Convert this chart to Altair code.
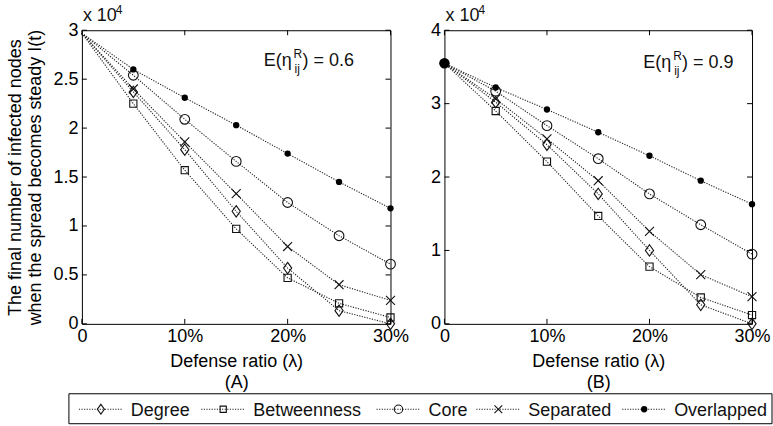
import altair as alt
import pandas as pd

# ---------------- data ----------------
ratios = [0, 5, 10, 15, 20, 25, 30]
series_names = ["Degree", "Betweenness", "Core", "Separated", "Overlapped"]

# panel (A): E(eta) = 0.6, values in units of 1e4
a_degree = [2.97, 2.37, 1.78, 1.15, 0.57, 0.135, 0.0]
a_betweenness = [2.97, 2.25, 1.57, 0.97, 0.47, 0.21, 0.065]
a_core = [2.97, 2.54, 2.09, 1.66, 1.24, 0.90, 0.61]
a_separated = [2.97, 2.40, 1.86, 1.33, 0.79, 0.40, 0.24]
a_overlapped = [2.97, 2.60, 2.31, 2.03, 1.74, 1.45, 1.18]

# panel (B): E(eta) = 0.9
b_degree = [3.55, 3.02, 2.44, 1.77, 1.00, 0.26, 0.0]
b_betweenness = [3.55, 2.90, 2.21, 1.47, 0.78, 0.36, 0.12]
b_core = [3.55, 3.17, 2.70, 2.25, 1.77, 1.35, 0.95]
b_separated = [3.55, 3.065, 2.52, 1.95, 1.26, 0.67, 0.37]
b_overlapped = [3.55, 3.22, 2.92, 2.61, 2.29, 1.95, 1.63]

x_ticks = [0, 10, 20, 30]
a_yticks = [0, 0.5, 1, 1.5, 2, 2.5, 3]
b_yticks = [0, 1, 2, 3, 4]

# ---------------- style ----------------
FONT = "Liberation Sans"
H = 294
W_A, W_B = 309, 308
INK = "#111111"
DASH = [1.2, 1.4]

marker_style = {
    "Degree": ("M0,-1L0.72,0L0,1L-0.72,0Z", 130),
    "Betweenness": ("square", 52),
    "Core": ("circle", 95),
    "Separated": ("M-1,-1L1,1M-1,1L1,-1", 80),
}


def long_df(vals_list):
    rows = []
    for name, vals in zip(series_names, vals_list):
        for r, v in zip(ratios, vals):
            rows.append({"series": name, "ratio": r, "value": v})
    return pd.DataFrame(rows)


def text_layer(txt, px, py, size=18, align="left"):
    return alt.Chart(pd.DataFrame({"t": [txt]})).mark_text(
        font=FONT, fontSize=size, align=align, baseline="alphabetic", color=INK
    ).encode(x=alt.value(px), y=alt.value(py), text="t:N")


def panel(df, width, ymax, yticks, letter, eta_val, ytitle, e_start, e_base, big_start):
    xscale = alt.Scale(domain=[0, 30], nice=False, zero=False)
    yscale = alt.Scale(domain=[0, ymax], nice=False, zero=True)
    xaxis = alt.Axis(
        values=x_ticks,
        labelExpr="datum.value == 0 ? '0' : datum.value + '%'",
        ticks=False, domain=False, grid=False,
        title=["Defense ratio (λ)", letter],
        labelPadding=4, titlePadding=7, titleLineHeight=21,
        labelFlush=False,
    )
    yaxis_kw = dict(
        values=yticks, labelExpr="format(datum.value, '~g')",
        ticks=False, domain=False, grid=False, labelPadding=4, labelFlush=False,
    )
    if ytitle:
        yaxis = alt.Axis(title=ytitle, titlePadding=8, titleLineHeight=20, **yaxis_kw)
    else:
        yaxis = alt.Axis(title=None, **yaxis_kw)

    def X(field):
        return alt.X(field, scale=xscale, axis=xaxis)

    def Y(field):
        return alt.Y(field, scale=yscale, axis=yaxis)

    layers = []
    layers.append(
        alt.Chart(df).mark_line(strokeDash=DASH, strokeWidth=1.1, color="#222222").encode(
            x=X("ratio:Q"), y=Y("value:Q"), detail="series:N", order="ratio:Q",
        )
    )
    for name, (shape, size) in marker_style.items():
        layers.append(
            alt.Chart(df).transform_filter(
                (alt.datum.series == name) & (alt.datum.ratio > 0)
            ).mark_point(shape=shape, size=size, filled=False, color=INK, strokeWidth=1.1, opacity=1).encode(
                x=X("ratio:Q"), y=Y("value:Q"),
            )
        )
    layers.append(
        alt.Chart(df).transform_filter(
            (alt.datum.series == "Overlapped") & (alt.datum.ratio > 0)
        ).mark_point(shape="circle", size=40, filled=True, color="black", opacity=1).encode(
            x=X("ratio:Q"), y=Y("value:Q"),
        )
    )
    if big_start:
        layers.append(
            alt.Chart(df).transform_filter(
                (alt.datum.series == "Overlapped") & (alt.datum.ratio == 0)
            ).mark_point(shape="circle", size=110, filled=True, color="black", opacity=1).encode(
                x=X("ratio:Q"), y=Y("value:Q"),
            )
        )

    # inward ticks (box style)
    ydf = pd.DataFrame({"value": yticks})
    xdf = pd.DataFrame({"ratio": x_ticks})
    layers.append(alt.Chart(ydf).mark_rule(color="black", strokeWidth=1).encode(
        y=Y("value:Q"), x=alt.value(0), x2=alt.value(5)))
    layers.append(alt.Chart(ydf).mark_rule(color="black", strokeWidth=1).encode(
        y=Y("value:Q"), x=alt.value(width - 5), x2=alt.value(width)))
    layers.append(alt.Chart(xdf).mark_rule(color="black", strokeWidth=1).encode(
        x=X("ratio:Q"), y=alt.value(H), y2=alt.value(H - 5)))
    layers.append(alt.Chart(xdf).mark_rule(color="black", strokeWidth=1).encode(
        x=X("ratio:Q"), y=alt.value(0), y2=alt.value(5)))

    # "x 10^4" exponent label
    layers.append(text_layer("x 10", 1, -9, 18))
    layers.append(text_layer("4", 34, -16, 12))

    # E(eta_ij^R) = value annotation
    layers.append(text_layer("E(η", e_start, e_base, 18))
    layers.append(text_layer("R", e_start + 30, e_base - 8, 12))
    layers.append(text_layer("ij", e_start + 31, e_base + 7, 12))
    layers.append(text_layer(") = " + eta_val, e_start + 39, e_base, 18))
    return layers


df_a = long_df([a_degree, a_betweenness, a_core, a_separated, a_overlapped])
df_b = long_df([b_degree, b_betweenness, b_core, b_separated, b_overlapped])

layers_a = panel(
    df_a, W_A, 3, a_yticks, "(A)", "0.6",
    ["The final number of infected nodes", "when the spread becomes steady I(t)"],
    182, 36, False,
)
layers_b = panel(df_b, W_B, 4, b_yticks, "(B)", "0.9", None, 199, 38, True)

# ---------------- legend (drawn under both panels, relative to panel A origin) ----------------
legend_centers = [19, 141.5, 317, 417, 563]
LEG_Y = 379.5
layers_a.append(
    alt.Chart(pd.DataFrame({"k": [0]})).mark_rect(
        fillOpacity=0, stroke="black", strokeWidth=1
    ).encode(x=alt.value(-13), x2=alt.value(691), y=alt.value(364), y2=alt.value(394))
)
for name, cx in zip(series_names, legend_centers):
    item = pd.DataFrame({"series": [name]})
    layers_a.append(alt.Chart(item).mark_rule(strokeDash=DASH, strokeWidth=1.1, color="#222222").encode(
        x=alt.value(cx - 22), x2=alt.value(cx + 22), y=alt.value(LEG_Y)))
    if name in marker_style:
        shape, size = marker_style[name]
        layers_a.append(alt.Chart(item).mark_point(
            shape=shape, size=size * 0.75, filled=False, color=INK, strokeWidth=1.1, opacity=1
        ).encode(x=alt.value(cx), y=alt.value(LEG_Y)))
    else:
        layers_a.append(alt.Chart(item).mark_point(
            shape="circle", size=40, filled=True, color="black", opacity=1
        ).encode(x=alt.value(cx), y=alt.value(LEG_Y)))
    layers_a.append(alt.Chart(item).mark_text(
        font=FONT, fontSize=18, align="left", baseline="alphabetic", color=INK
    ).encode(x=alt.value(cx + 30), y=alt.value(LEG_Y + 6.5), text="series:N"))

chart_a = alt.layer(*layers_a).properties(width=W_A, height=H)
chart_b = alt.layer(*layers_b).properties(width=W_B, height=H)

chart = alt.hconcat(chart_a, chart_b, spacing=54, bounds="flush").properties(
    padding={"left": 6, "top": 3, "right": 0, "bottom": 0}
).configure_axis(
    labelFont=FONT, titleFont=FONT, labelFontSize=18, titleFontSize=18,
    labelColor="black", titleColor="black", titleFontWeight="normal",
).configure_view(stroke="black", strokeWidth=1).configure_text(font=FONT)

chart.save("out.html", embed_options={"renderer": "svg", "actions": False})
